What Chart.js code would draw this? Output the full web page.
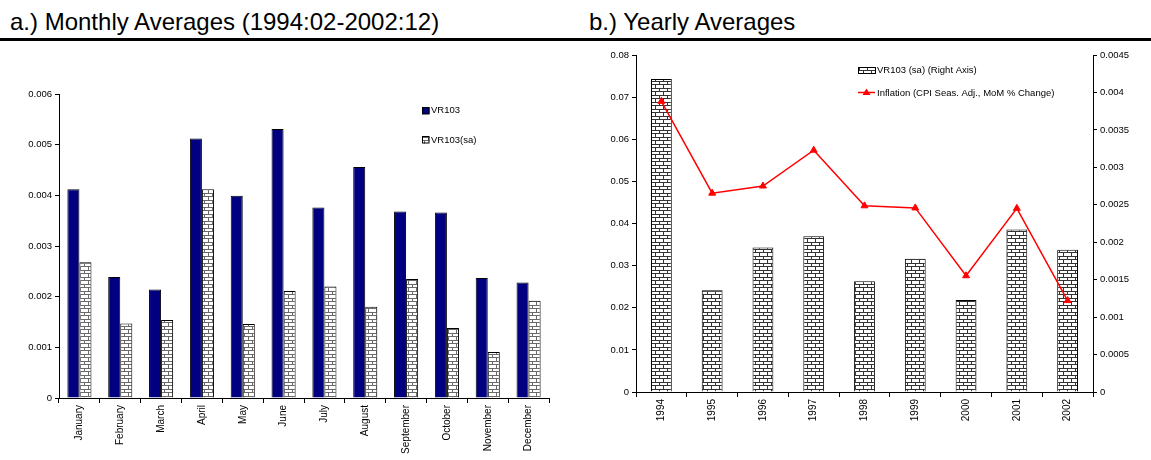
<!DOCTYPE html>
<html>
<head>
<meta charset="utf-8">
<script src="https://cdn.jsdelivr.net/npm/chart.js@4.4.1/dist/chart.umd.min.js"></script>
<style>
  html, body { margin: 0; padding: 0; background: #fff; }
  body { width: 1151px; height: 460px; position: relative; overflow: hidden;
         font-family: "Liberation Sans", Arial, sans-serif; }
  .sub { position: absolute; font-size: 24px; color: #000; line-height: 1; white-space: nowrap; }
  .rule { position: absolute; left: 0; top: 38px; width: 1151px; height: 3px; background: #000; }
  canvas { position: absolute; top: 0; }
</style>
</head>
<body>
<div class="sub" style="left:10px; top:10px;">a.) Monthly Averages (1994:02-2002:12)</div>
<div class="sub" style="left:589px; top:10px;">b.) Yearly Averages</div>
<div class="rule"></div>
<canvas id="monthly" width="575" height="460" style="left:0;"></canvas>
<canvas id="yearly" width="576" height="460" style="left:575px;"></canvas>
<script>
// Monthly averages
const months = ["January", "February", "March", "April", "May", "June",
                "July", "August", "September", "October", "November", "December"];
const vr103 = [0.00412, 0.00239, 0.00214, 0.00512, 0.00399, 0.00531,
               0.00376, 0.00456, 0.00368, 0.00366, 0.00237, 0.00228];
const vr103sa = [0.00268, 0.00147, 0.00154, 0.00412, 0.00146, 0.00211,
                 0.00220, 0.00180, 0.00235, 0.00138, 0.00091, 0.00192];

// Yearly averages
const years = ["1994", "1995", "1996", "1997", "1998", "1999", "2000", "2001", "2002"];
const vr103saYearly = [0.00418, 0.00136, 0.00193, 0.00208, 0.00148, 0.00178, 0.00123, 0.00217, 0.00190];
const inflation = [0.0690, 0.0472, 0.0489, 0.0574, 0.0442, 0.0437, 0.0276, 0.0436, 0.0217];

const FONT = '"Liberation Sans", Arial, sans-serif';

// Brick hatch used for the seasonally adjusted series
function brickPattern(lineColor) {
  const c = document.createElement('canvas');
  c.width = 8; c.height = 7;
  const g = c.getContext('2d');
  g.fillStyle = '#fff';
  g.fillRect(0, 0, 8, 7);
  g.fillStyle = lineColor;
  g.fillRect(0, 0, 8, 1);
  g.fillRect(0, 4, 8, 1);
  g.fillRect(0, 1, 1, 3);
  g.fillRect(4, 5, 1, 2);
  return g.createPattern(c, 'repeat');
}

const tickFmt = v => String(Number(v.toFixed(5)));

function xAxis(height) {
  return {
    offset: true,
    grid: { display: true, drawOnChartArea: false, drawTicks: true, tickLength: 5, color: '#000', offset: true },
    border: { display: true, color: '#000', width: 1 },
    ticks: { minRotation: 90, maxRotation: 90, autoSkip: false, color: '#000', padding: 2,
             font: { family: FONT, size: 10 } },
    afterFit(s) { s.height = height; }
  };
}

function yAxis(pos, max, step, width) {
  return {
    position: pos, min: 0, max: max,
    grid: { display: true, drawOnChartArea: false, drawTicks: true, tickLength: 4, color: '#000' },
    border: { display: true, color: '#000', width: 1 },
    ticks: { stepSize: step, color: '#000', padding: 3, callback: tickFmt,
             font: { family: FONT, size: 9.5 } },
    afterFit(s) { s.width = width; }
  };
}

// Legend drawn inside the plot area
function legendPlugin(items) {
  return {
    id: 'innerLegend',
    afterDraw(chart) {
      const ctx = chart.ctx;
      ctx.save();
      ctx.font = '9.5px ' + FONT;
      ctx.textBaseline = 'middle';
      ctx.fillStyle = '#000';
      items.forEach(it => {
        it.swatch(ctx);
        ctx.fillStyle = '#000';
        ctx.fillText(it.text, it.tx, it.ty);
      });
      ctx.restore();
    }
  };
}

const monthlyCtx = document.getElementById('monthly').getContext('2d');
const saPatternA = brickPattern('#6a6a6a');

new Chart(monthlyCtx, {
  type: 'bar',
  data: {
    labels: months,
    datasets: [
      { label: 'VR103', data: vr103, backgroundColor: '#000080', borderColor: '#000', borderWidth: 1,
        categoryPercentage: 0.59, barPercentage: 1 },
      { label: 'VR103(sa)', data: vr103sa, backgroundColor: saPatternA, borderColor: '#000', borderWidth: 1,
        categoryPercentage: 0.59, barPercentage: 1 }
    ]
  },
  options: {
    responsive: false, animation: false, devicePixelRatio: 1,
    layout: { padding: { top: 94, right: 26, bottom: 0, left: 0 } },
    plugins: { legend: { display: false }, tooltip: { enabled: false } },
    scales: { x: xAxis(62), y: yAxis('left', 0.006, 0.001, 59) }
  },
  plugins: [legendPlugin([
    { text: 'VR103', tx: 431, ty: 110.5,
      swatch(ctx) { ctx.fillStyle = '#000080'; ctx.fillRect(422.5, 107, 7, 7);
                    ctx.strokeStyle = '#000'; ctx.lineWidth = 1; ctx.strokeRect(422.5, 107.5, 6.5, 6.5); } },
    { text: 'VR103(sa)', tx: 431, ty: 140,
      swatch(ctx) { ctx.fillStyle = saPatternA; ctx.fillRect(422.5, 136.5, 7, 7);
                    ctx.strokeStyle = '#000'; ctx.lineWidth = 1; ctx.strokeRect(422.5, 136.5, 6.5, 6.5); } }
  ])]
});

const yearlyCtx = document.getElementById('yearly').getContext('2d');
const saPatternB = brickPattern('#333');

new Chart(yearlyCtx, {
  type: 'bar',
  data: {
    labels: years,
    datasets: [
      { type: 'line', label: 'Inflation (CPI Seas. Adj., MoM % Change)', data: inflation, yAxisID: 'y',
        borderColor: '#ff0000', backgroundColor: '#ff0000', borderWidth: 1.5,
        pointStyle: 'triangle', pointRadius: 4, pointBorderWidth: 1, tension: 0, order: 0 },
      { label: 'VR103 (sa) (Right Axis)', data: vr103saYearly, yAxisID: 'y2',
        backgroundColor: saPatternB, borderColor: '#000', borderWidth: 1,
        categoryPercentage: 0.41, barPercentage: 1, order: 1 }
    ]
  },
  options: {
    responsive: false, animation: false, devicePixelRatio: 1,
    layout: { padding: { top: 55, right: 0, bottom: 0, left: 0 } },
    plugins: { legend: { display: false }, tooltip: { enabled: false } },
    scales: {
      x: xAxis(68),
      y: yAxis('left', 0.08, 0.01, 61),
      y2: yAxis('right', 0.0045, 0.0005, 58)
    }
  },
  plugins: [legendPlugin([
    { text: 'VR103 (sa) (Right Axis)', tx: 302, ty: 70.5,
      swatch(ctx) { ctx.fillStyle = saPatternB; ctx.fillRect(283.5, 67.5, 17, 6);
                    ctx.strokeStyle = '#000'; ctx.lineWidth = 1; ctx.strokeRect(283.5, 67.5, 17, 6); } },
    { text: 'Inflation (CPI Seas. Adj., MoM % Change)', tx: 302, ty: 93,
      swatch(ctx) {
        ctx.strokeStyle = '#ff0000'; ctx.lineWidth = 1.5;
        ctx.beginPath(); ctx.moveTo(283, 92.5); ctx.lineTo(300, 92.5); ctx.stroke();
        ctx.fillStyle = '#ff0000';
        ctx.beginPath(); ctx.moveTo(291.5, 88.5); ctx.lineTo(295.5, 95); ctx.lineTo(287.5, 95); ctx.closePath(); ctx.fill();
      } }
  ])]
});
</script>
</body>
</html>
